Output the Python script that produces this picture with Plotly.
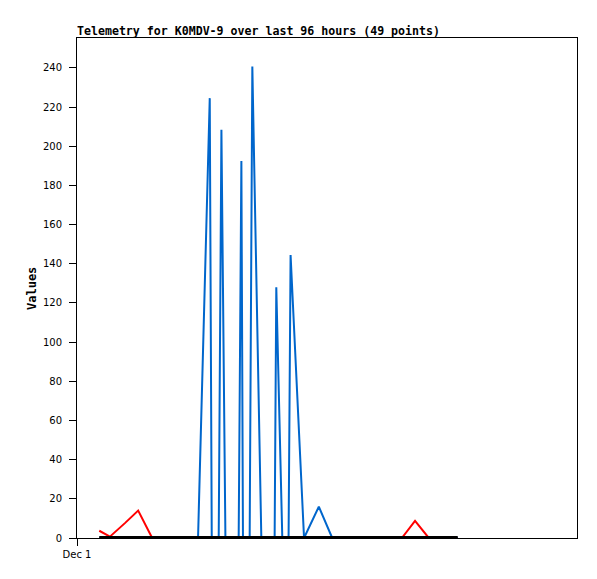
import plotly.graph_objects as go

# Hours since Dec 1 00:00
hours = [5.34, 7.90, 11.50, 14.68, 18.04, 29.05, 31.86, 32.34, 34.01, 34.66,
         35.62, 38.80, 39.45, 39.83, 41.44, 42.08, 44.24, 47.43, 47.83, 49.27,
         50.78, 51.26, 54.49, 58.04, 61.25, 77.96, 81.13, 84.43, 91.38]
red_values = [3.7, 0.7, 7.6, 14.0, 0, 0, 0, 0, 0, 0,
              0, 0, 0, 0, 0, 0, 0, 0, 0, 0,
              0, 0, 0, 0, 0, 0, 8.7, 0, 0]
blue_values = [0, 0, 0, 0, 0, 0, 224.6, 0, 0, 208.4,
               0, 0, 192.5, 0, 0, 240.7, 0, 0, 128.0, 0,
               0, 144.5, 0, 16.0, 0, 0, 0, 0, 0]
black_values = [0] * len(hours)

x_tick_vals = [0]
x_tick_text = ["Dec 1"]
y_tick_vals = list(range(0, 241, 20))

fig = go.Figure()
fig.add_trace(go.Scatter(x=hours, y=red_values, mode="lines",
                         line=dict(color="#FF0000", width=2), showlegend=False))
fig.add_trace(go.Scatter(x=hours, y=blue_values, mode="lines",
                         line=dict(color="#0066CC", width=2), showlegend=False))
fig.add_trace(go.Scatter(x=hours, y=black_values, mode="lines",
                         line=dict(color="#000000", width=4), showlegend=False))

tick_font = dict(family="DejaVu Sans", size=10, color="#000000")

# page body has an 8px margin, so the figure is offset by 8px
fig.update_layout(
    width=589, height=571,
    margin=dict(l=69, r=20, t=30, b=41),
    paper_bgcolor="white", plot_bgcolor="white",
    title=dict(text="Telemetry for K0MDV-9 over last 96 hours (49 points)",
               font=dict(family="DejaVu Sans Mono", size=11.6, weight="bold", color="#000000"),
               xref="paper", x=0, xanchor="left",
               yref="container", y=1 - 23 / 571, yanchor="middle"),
    xaxis=dict(range=[0, 120], tickvals=x_tick_vals, ticktext=x_tick_text,
               showgrid=False, zeroline=False, showline=True, linecolor="#000000",
               linewidth=1, mirror=True, ticks="outside", ticklen=7,
               tickcolor="#000000", tickfont=tick_font),
    yaxis=dict(range=[0, 255.3], tickvals=y_tick_vals,
               showgrid=False, zeroline=False, showline=True, linecolor="#000000",
               linewidth=1, mirror=True, ticks="outside", ticklen=7,
               tickcolor="#000000", tickfont=tick_font, ticklabelstandoff=5),
    annotations=[dict(text="Values", textangle=-90, xref="paper", yref="paper",
                      x=(32 - 77) / 500, y=(538 - 289) / 500,
                      xanchor="center", yanchor="middle", showarrow=False,
                      font=dict(family="DejaVu Sans Mono", size=12, weight="bold",
                                color="#000000"))],
)

fig.write_html("out.html")
